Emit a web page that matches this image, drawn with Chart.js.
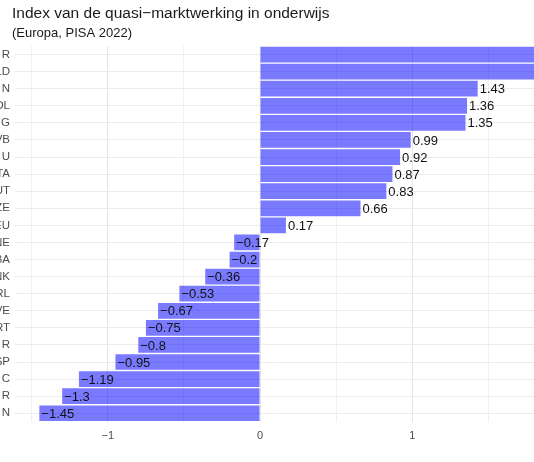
<!DOCTYPE html>
<html>
<head>
<meta charset="utf-8">
<script src="https://cdn.jsdelivr.net/npm/chart.js@4/dist/chart.umd.min.js"></script>
<style>
html,body{margin:0;padding:0;background:#fff;}
#wrap{width:534px;height:462px;position:relative;}
</style>
</head>
<body>
<div id="wrap"><canvas id="c" width="534" height="462"></canvas></div>
<script>
const titleText = "Index van de quasi\u2212marktwerking in onderwijs";
const subtitleText = "(Europa, PISA 2022)";
const categories = ["R","LD","N","OL","G","VB","U","TA","UT","ZE","EU","NE","BA","NK","RL","VE","RT","R","SP","C","R","N"];
const values = [1.95,1.88,1.43,1.36,1.35,0.99,0.92,0.87,0.83,0.66,0.17,-0.17,-0.2,-0.36,-0.53,-0.67,-0.75,-0.8,-0.95,-1.19,-1.3,-1.45];
const xTickLabels = {"-1":"\u22121","0":"0","1":"1"};

const FONT = "'Liberation Sans', Arial, sans-serif";

const headerPlugin = {
  id: 'header',
  afterDraw(chart) {
    const ctx = chart.ctx;
    ctx.save();
    ctx.fillStyle = '#1a1a1a';
    ctx.textAlign = 'left';
    ctx.textBaseline = 'middle';
    ctx.font = "15.5px " + FONT;
    ctx.fillText(titleText, 12, 14);
    ctx.font = "13px " + FONT;
    ctx.fillText(subtitleText, 12, 33);
    ctx.restore();
  }
};

const valueLabelPlugin = {
  id: 'valueLabels',
  afterDatasetsDraw(chart) {
    const ctx = chart.ctx;
    const meta = chart.getDatasetMeta(0);
    const xs = chart.scales.x;
    ctx.save();
    ctx.fillStyle = '#111';
    ctx.font = "13px " + FONT;
    ctx.textAlign = 'left';
    ctx.textBaseline = 'middle';
    meta.data.forEach((bar, i) => {
      const v = values[i];
      const px = xs.getPixelForValue(v);
      const txt = String(v).replace('-', '\u2212');
      ctx.fillText(txt, px + 2, bar.y + 1);
    });
    ctx.restore();
  }
};

new Chart(document.getElementById('c'), {
  type: 'bar',
  data: {
    labels: categories,
    datasets: [{
      data: values,
      backgroundColor: 'rgba(0,0,255,0.52)',
      borderWidth: 0,
      categoryPercentage: 0.92,
      barPercentage: 1.0
    }]
  },
  options: {
    indexAxis: 'y',
    responsive: false,
    animation: false,
    devicePixelRatio: 1,
    layout: { padding: { top: 46, left: 0, right: 0, bottom: 11 } },
    plugins: { legend: { display: false }, tooltip: { enabled: false }, title: { display: false } },
    scales: {
      x: {
        type: 'linear',
        min: -1.61,
        max: 1.8,
        border: { display: false },
        grid: {
          drawTicks: false,
          color: (c) => {
            const v = c.tick ? c.tick.value : 0;
            return Math.abs(v - Math.round(v)) < 1e-6 ? '#e6e6e6' : '#f0f0f0';
          },
          lineWidth: 1
        },
        afterBuildTicks(scale) {
          scale.ticks = [-1.5, -1, -0.5, 0, 0.5, 1, 1.5].map(v => ({ value: v }));
        },
        ticks: {
          color: '#4d4d4d',
          font: { family: FONT, size: 11 },
          padding: 8,
          autoSkip: false,
          maxRotation: 0,
          callback: (v) => {
            const k = String(Math.round(v * 100) / 100);
            return xTickLabels[k] !== undefined ? xTickLabels[k] : '';
          }
        }
      },
      y: {
        type: 'category',
        border: { display: false },
        grid: { drawTicks: false, offset: false, color: '#ebebeb', lineWidth: 1 },
        afterFit(scale) { scale.width = 15; },
        ticks: {
          color: '#4d4d4d',
          font: { family: FONT, size: 11.5 },
          padding: 5,
          autoSkip: false
        }
      }
    }
  },
  plugins: [headerPlugin, valueLabelPlugin]
});
</script>
</body>
</html>
